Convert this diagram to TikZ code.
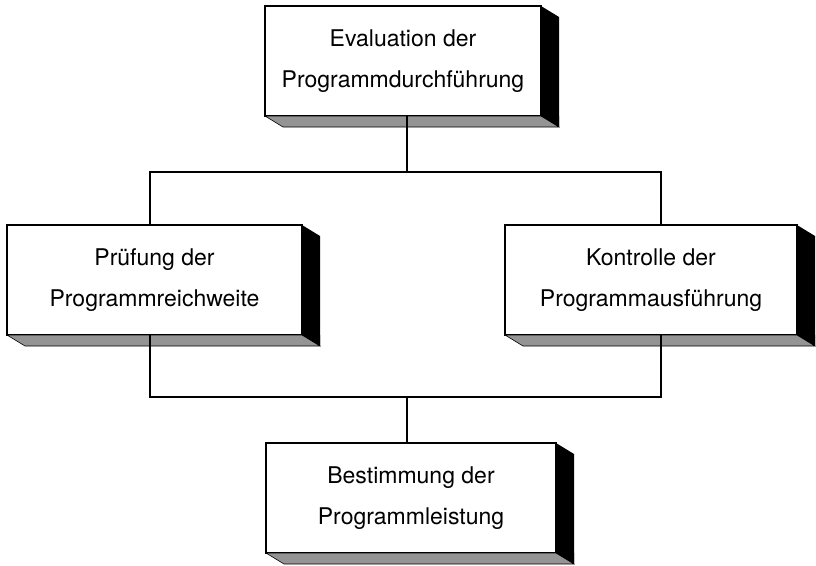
\documentclass[tikz,border=0pt]{standalone}
\usepackage{fontspec}
\setmainfont{TeX Gyre Heros}
\usetikzlibrary{calc}

\tikzset{
  stage/.style={draw=black, line width=1.6pt, fill=white, inner sep=0pt, outer sep=0pt,
    minimum height=110pt, align=center,
    font=\fontsize{23}{41}\selectfont},
  link/.style={line width=1.8pt, line cap=rect},
  sideface/.style={fill=black},
  bottomface/.style={fill=black!42, draw=black, line width=0.6pt},
}

\begin{document}
\begin{tikzpicture}[x=1pt, y=-1pt]
  \useasboundingbox (0,0) rectangle (816,565);

  % the four stages
  \node[stage, minimum width=276pt] (eval)  at (403,61)   {Evaluation der\\Programmdurchführung};
  \node[stage, minimum width=295pt] (pruef) at (154.5,280) {Prüfung der\\Programmreichweite};
  \node[stage, minimum width=292pt] (kontr) at (651,280)  {Kontrolle der\\Programmausführung};
  \node[stage, minimum width=290pt] (best)  at (411,498)  {Bestimmung der\\Programmleistung};

  % extruded right and bottom faces
  \foreach \n in {eval,pruef,kontr,best} {
    \fill[sideface] (\n.north east) -- ++(18,11) -- ($(\n.south east)+(18,11)$) -- (\n.south east) -- cycle;
    \filldraw[bottomface] (\n.south west) -- (\n.south east) -- ($(\n.south east)+(18,11)$) -- ($(\n.south west)+(18,11)$) -- cycle;
    \fill[sideface] (\n.south east) -- ++(18,11) -- ++(0,-11) -- cycle;
  }

  % junction points of the connectors
  \coordinate (jt) at (407,172);
  \coordinate (tl) at (150,172);
  \coordinate (tr) at (661,172);
  \coordinate (jb) at (407,397);
  \coordinate (bl) at (150,397);
  \coordinate (br) at (661,397);

  % connectors
  \draw[link] (eval.south -| jt) -- (jt);
  \draw[link] (pruef.north -| tl) -- (tl) -- (tr) -- (kontr.north -| tr);
  \draw[link] (pruef.south -| bl) -- (bl) -- (br) -- (kontr.south -| br);
  \draw[link] (jb) -- (best.north -| jb);
\end{tikzpicture}
\end{document}
